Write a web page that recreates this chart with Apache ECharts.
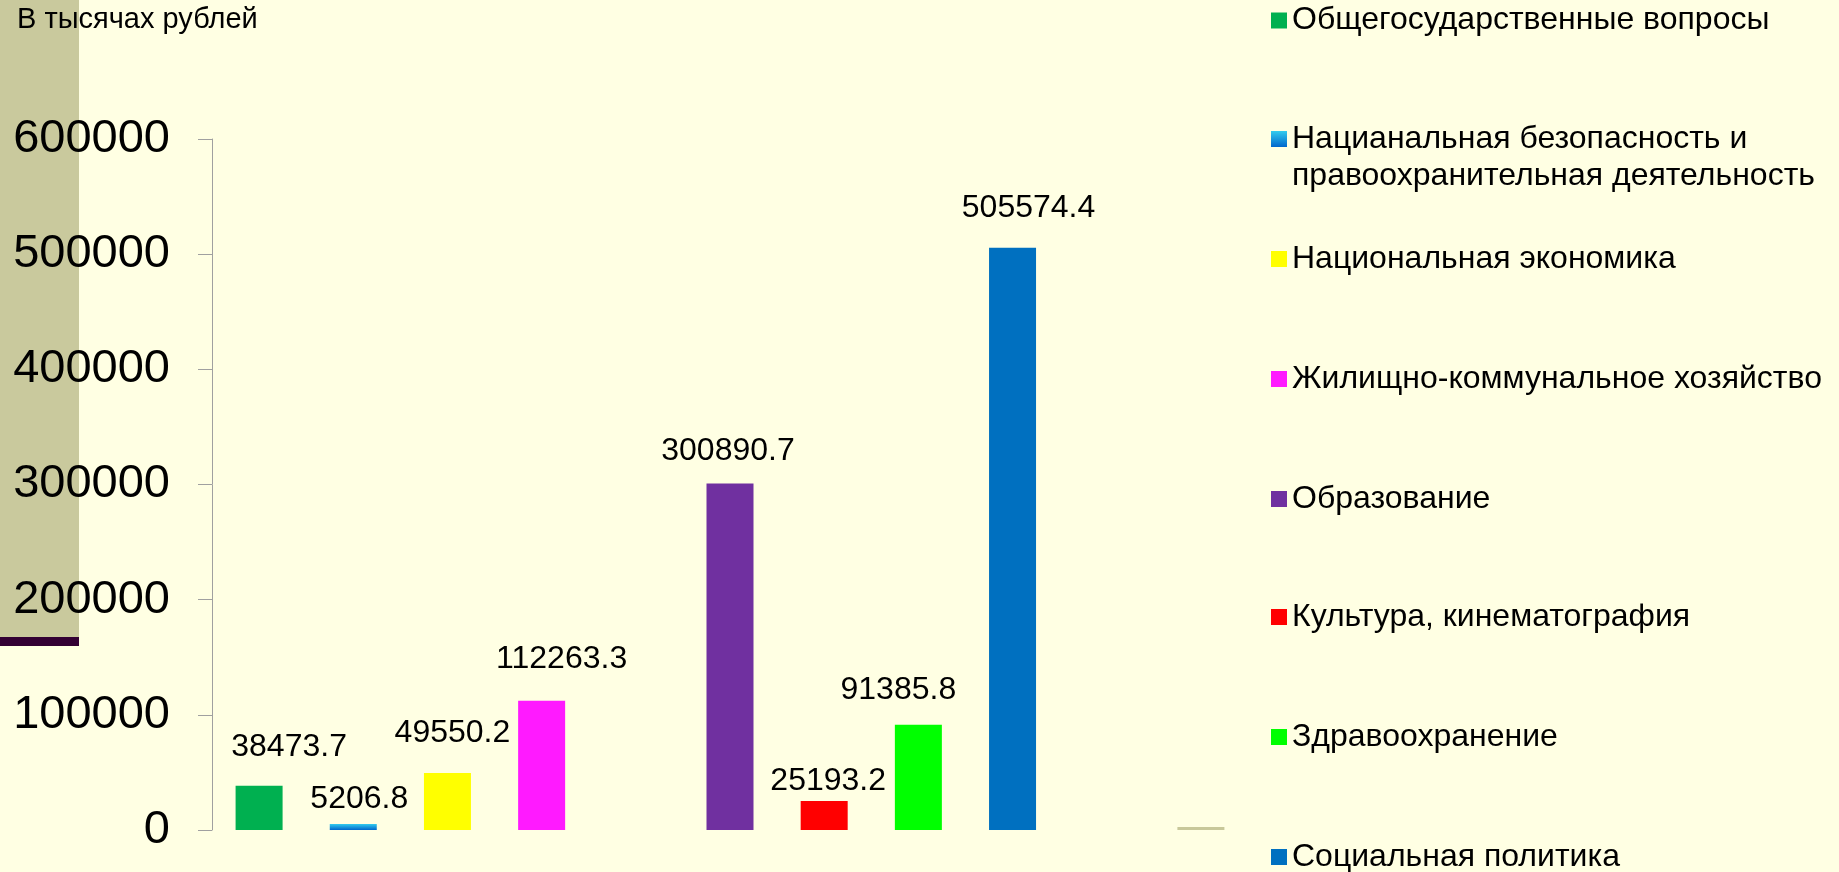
<!DOCTYPE html>
<html>
<head>
<meta charset="utf-8">
<script src="https://cdn.jsdelivr.net/npm/echarts@6/dist/echarts.min.js"></script>
<style>
html,body{margin:0;padding:0;background:#FFFFE3;}
#chart{width:1839px;height:872px;}
</style>
</head>
<body>
<div id="chart"></div>
<script>
// ---- data ----
const categories = [
  'Общегосударственные вопросы',
  'Нацианальная безопасность и правоохранительная деятельность',
  'Национальная экономика',
  'Жилищно-коммунальное хозяйство',
  '—',
  'Образование',
  'Культура, кинематография',
  'Здравоохранение',
  'Социальная политика',
  '— ',
  'Прочие'
];
const legendNames = [
  'Общегосударственные вопросы',
  'Нацианальная безопасность и правоохранительная деятельность',
  'Национальная экономика',
  'Жилищно-коммунальное хозяйство',
  'Образование',
  'Культура, кинематография',
  'Здравоохранение',
  'Социальная политика'
];
const values = [38473.7, 5206.8, 49550.2, 112263.3, null, 300890.7, 25193.2, 91385.8, 505574.4, null, 2500];
const yTicks = [0, 100000, 200000, 300000, 400000, 500000, 600000];

// ---- styles ----
const FONT = 'Liberation Sans, Arial, sans-serif';
const colors = [
  '#00B050',
  {type:'linear',x:0,y:0,x2:0,y2:1,colorStops:[{offset:0,color:'#33CCEE'},{offset:1,color:'#0066CC'}]},
  '#FFFF00',
  '#FF1AFF',
  '#7030A0',
  '#FF0000',
  '#00FF00',
  '#0070C0'
];
// [horizontal shift, distance above bar] for each data label
const labelShift = [[30,23],[6,9],[5,24],[20,26],[-2,16],[4,4],[-20,19],[16,24]];
const legendCenters = [20.5, 139, 259, 379, 499, 617, 737, 857];
const LH = 37;

function wrapLegend(name) {
  const k = name.indexOf(' и ');
  if (k < 0) return name;
  // invisible first line so that the first visible line sits beside the icon
  return '\u200b\n' + name.slice(0, k + 2) + '\n' + name.slice(k + 3);
}

const series = legendNames.map((name, i) => ({
  name: name,
  type: 'bar',
  stack: 'all',
  barWidth: 47,
  itemStyle: {color: colors[i]},
  label: {
    show: true, position: 'top',
    distance: labelShift[i][1], offset: [labelShift[i][0], 0],
    fontSize: 32, fontFamily: FONT, color: '#000'
  },
  data: categories.map((c, j) => c === name ? values[j] : null)
}));
series.push({
  name: 'Прочие', type: 'bar', stack: 'all', barWidth: 47,
  itemStyle: {color: '#C8C89A'},
  label: {show: false},
  data: categories.map((c, j) => c === 'Прочие' ? values[j] : null)
});

const legends = legendNames.map((name, i) => {
  const lines = wrapLegend(name).split('\n').length;
  const boxH = LH * lines;
  return {
    data: [name],
    orient: 'vertical',
    left: 1271,
    top: legendCenters[i] - boxH / 2,
    padding: 0,
    icon: 'rect',
    itemWidth: 16, itemHeight: 16,
    selectedMode: false,
    formatter: wrapLegend,
    textStyle: {fontSize: 32, fontFamily: FONT, color: '#000', lineHeight: LH}
  };
});

const chart = echarts.init(document.getElementById('chart'));
chart.setOption({
  backgroundColor: '#FFFFE3',
  animation: false,
  title: {
    text: 'В тысячах рублей',
    left: 17, top: 5, padding: 0,
    textStyle: {fontSize: 29, fontWeight: 'normal', fontFamily: FONT, color: '#000'}
  },
  graphic: [
    {type: 'rect', z: -10, shape: {x: 0, y: 0, width: 79, height: 637}, style: {fill: '#C9C99D'}},
    {type: 'rect', z: -10, shape: {x: 0, y: 637, width: 79, height: 9}, style: {fill: '#330033'}}
  ],
  legend: legends,
  grid: {left: 212, right: 591, top: 139, bottom: 42},
  xAxis: {
    type: 'category',
    data: categories,
    axisLine: {show: false},
    axisTick: {show: false},
    axisLabel: {show: false}
  },
  yAxis: {
    type: 'value',
    min: yTicks[0], max: yTicks[yTicks.length - 1], interval: yTicks[1] - yTicks[0],
    axisLine: {show: true, lineStyle: {color: '#A0A0A0', width: 1}},
    axisTick: {show: true, length: 14, lineStyle: {color: '#A0A0A0'}},
    splitLine: {show: false},
    axisLabel: {fontSize: 47, fontFamily: FONT, color: '#000', margin: 42, formatter: v => String(v)}
  },
  series: series
});
</script>
</body>
</html>
